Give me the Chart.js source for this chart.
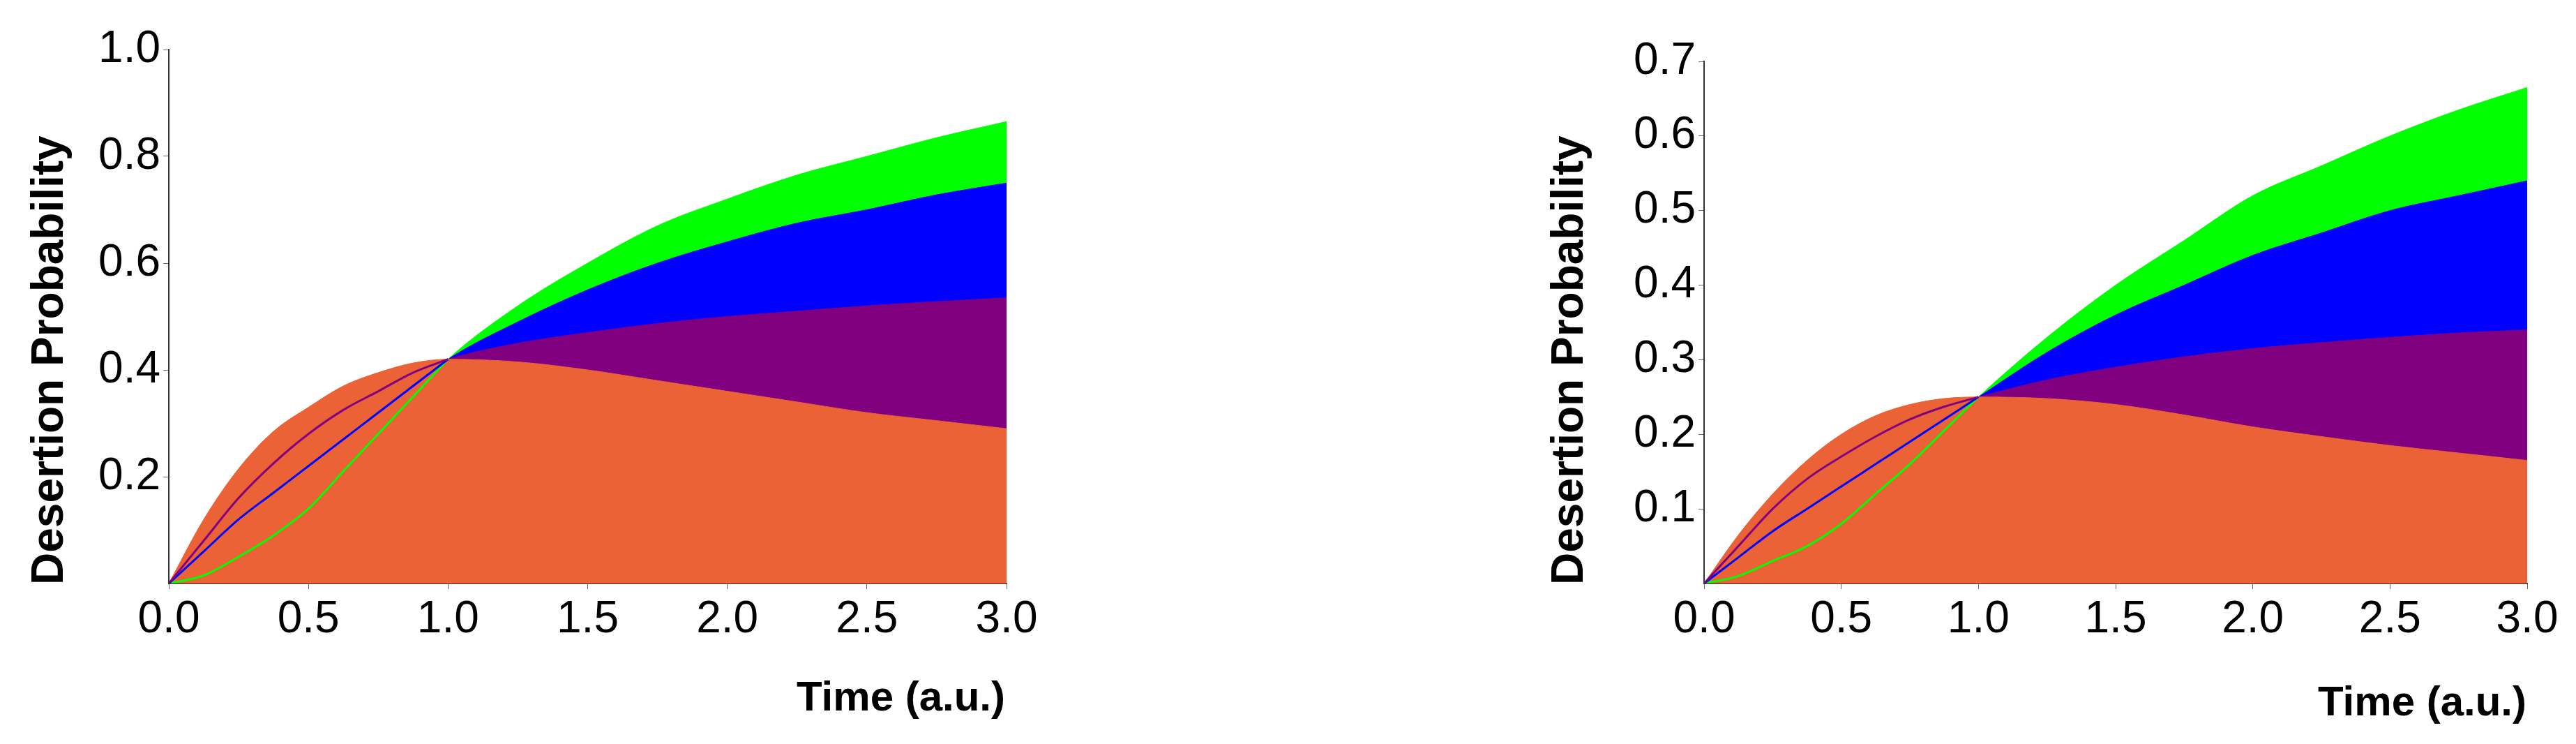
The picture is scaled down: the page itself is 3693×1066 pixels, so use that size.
<!DOCTYPE html>
<html><head><meta charset="utf-8">
<script src="https://cdn.jsdelivr.net/npm/chart.js@4"></script>
<style>
body{margin:0;width:3693px;height:1066px;background:#fff;position:relative;overflow:hidden;font-family:"Liberation Sans Narrow","Liberation Sans",Arial,sans-serif}
canvas{position:absolute;top:0}
.yt{position:absolute;font-weight:bold;font-size:64px;white-space:nowrap;transform-origin:0 0;transform:rotate(-90deg);line-height:1;font-family:"Liberation Sans",Arial,sans-serif}
.xt{position:absolute;font-weight:bold;font-size:60px;white-space:nowrap;line-height:1}
</style></head><body>
<div id="w1" style="position:absolute;left:0;width:1500px;height:1066px"><canvas id="c1"></canvas></div>
<div id="w2" style="position:absolute;left:2150px;width:1543px;height:1066px"><canvas id="c2"></canvas></div>
<div class="yt" style="left:36px;top:838px">Desertion Probability</div>
<div class="yt" style="left:2215px;top:838px">Desertion Probability</div>
<div class="xt" style="right:2252px;top:968px">Time (a.u.)</div>
<div class="xt" style="right:71px;top:975px">Time (a.u.)</div>
<script>
const times = [0,0.125,0.25,0.375,0.5,0.625,0.75,0.875,1,1.25,1.5,1.75,2,2.25,2.5,2.75,3];
// Left panel
const orangeL = [0,0.12,0.215,0.285,0.33,0.37,0.395,0.413,0.42,0.415,0.40,0.38,0.36,0.34,0.32,0.305,0.29];
const purpleL = [0,0.08,0.16,0.225,0.28,0.325,0.36,0.395,0.42,0.45,0.47,0.487,0.50,0.51,0.52,0.528,0.535];
const blueL   = [0,0.06,0.12,0.17,0.22,0.27,0.32,0.37,0.42,0.49,0.55,0.60,0.64,0.675,0.70,0.728,0.75];
const greenL  = [0,0.015,0.05,0.09,0.14,0.21,0.28,0.35,0.42,0.52,0.60,0.67,0.72,0.765,0.80,0.835,0.865];
// Right panel
const orangeR = [0,0.065,0.12,0.165,0.20,0.225,0.24,0.248,0.25,0.248,0.24,0.226,0.21,0.197,0.185,0.175,0.165];
const purpleR = [0,0.05,0.10,0.14,0.17,0.197,0.22,0.237,0.25,0.273,0.29,0.304,0.315,0.323,0.33,0.336,0.34];
const blueR   = [0,0.035,0.07,0.10,0.13,0.16,0.19,0.22,0.25,0.31,0.36,0.40,0.44,0.47,0.50,0.52,0.54];
const greenR  = [0,0.01,0.03,0.05,0.08,0.12,0.16,0.205,0.25,0.33,0.40,0.46,0.52,0.56,0.60,0.635,0.665];
const ticksL = [0.2,0.4,0.6,0.8,1.0];
const ticksR = [0.1,0.2,0.3,0.4,0.5,0.6,0.7];
const xTicks = [0,0.5,1,1.5,2,2.5,3];

const C = {orange:'#EA6235',purple:'#800080',blue:'#0000FF',green:'#00FF00'};
const pts = a => a.map((v,i)=>({x:times[i],y:v}));
const early = a => a.map((v,i)=>({x:times[i],y:times[i]<=1?v:null}));

function make(id, o,p,b,g, ymax, yt, pad, yw){
  const fillDs = (d,c)=>({data:pts(d),borderColor:c,backgroundColor:c,borderWidth:1,fill:'origin',pointRadius:0,cubicInterpolationMode:'monotone'});
  const lineDs = (d,c)=>({data:early(d),borderColor:c,borderWidth:3,fill:false,pointRadius:0,spanGaps:false,cubicInterpolationMode:'monotone'});
  const tf = {family:'"Liberation Sans Narrow","Liberation Sans",Arial',size:64};
  new Chart(document.getElementById(id),{type:'line',
    data:{datasets:[lineDs(p,C.purple),lineDs(b,C.blue),lineDs(g,C.green),
      fillDs(o,C.orange),fillDs(p,C.purple),fillDs(b,C.blue),fillDs(g,C.green)]},
    options:{responsive:true,maintainAspectRatio:false,animation:false,
      layout:{padding:pad},
      plugins:{legend:{display:false},tooltip:{enabled:false}},
      scales:{
        x:{type:'linear',min:0,max:3,afterBuildTicks:s=>{s.ticks=xTicks.map(v=>({value:v}));},
          afterFit:s=>{s.height=230;},
          border:{color:'#333',width:2},grid:{drawOnChartArea:false,tickLength:8,color:'#666'},
          ticks:{color:'#000',font:tf,maxRotation:0,padding:6,callback:v=>v.toFixed(1)}},
        y:{min:0,max:ymax,afterBuildTicks:s=>{s.ticks=yt.map(v=>({value:v}));},
          afterFit:s=>{s.width=yw;},
          border:{color:'#333',width:2},grid:{drawOnChartArea:false,tickLength:8,color:'#666'},
          ticks:{color:'#000',font:tf,padding:4,callback:v=>v.toFixed(1)}}
      }}});
}
make('c1',orangeL,purpleL,blueL,greenL,1.0,ticksL,{top:71,right:57,bottom:0,left:0},242);
make('c2',orangeR,purpleR,blueR,greenR,0.7,ticksR,{top:88,right:70,bottom:0,left:0},293);
</script></body></html>
